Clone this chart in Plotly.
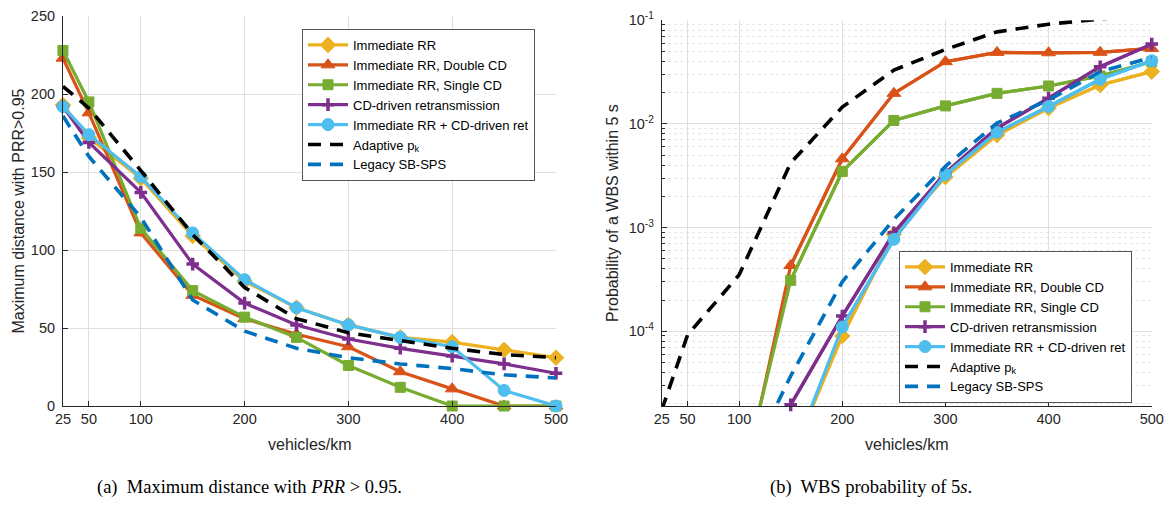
import plotly.graph_objects as go
import math

# ---------------- data ----------------
density = [25, 50, 100, 150, 200, 250, 300, 350, 400, 450, 500]
x_ticks = [25, 50, 100, 200, 300, 400, 500]
y_ticks_left = [0, 50, 100, 150, 200, 250]
y_ticks_right = [1e-4, 1e-3, 1e-2, 1e-1]
y_ticktext_right = ["10<sup>-4</sup>", "10<sup>-3</sup>", "10<sup>-2</sup>", "10<sup>-1</sup>"]

series_names = ["Immediate RR", "Immediate RR, Double CD", "Immediate RR, Single CD",
                "CD-driven retransmission", "Immediate RR + CD-driven ret",
                "Adaptive p<sub>k</sub>", "Legacy SB-SPS"]

# (a) Maximum distance with PRR > 0.95 [m]
dist_rr      = [193, 172, 146, 109, 80, 63, 52, 44, 41, 36, 31]
dist_double  = [223, 188, 111, 71, 56, 46, 38, 22, 11, 0, 0]
dist_single  = [228, 195, 114, 74, 57, 44, 26, 12, 0, 0, 0]
dist_cd      = [192, 169, 137, 91, 66, 52, 43, 37, 32, 27, 21]
dist_rr_cd   = [192, 174, 147, 111, 81, 63, 52, 44, 38, 10, 0]
dist_adapt   = [205, 191, 151, 110, 76, 56, 47, 42, 37, 33, 31]
dist_legacy  = [186, 160, 121, 68, 48, 37, 31, 27, 24, 20, 18]

# (b) Probability of a WBS within 5 s
wbs_rr     = [None, None, None, 5.9e-6, 9.0e-5, 8.6e-4, 3.07e-3, 7.8e-3, 0.0142, 0.0237, 0.0319]
wbs_double = [None, None, 2.25e-6, 4.3e-4, 4.6e-3, 0.0197, 0.0398, 0.0489, 0.0485, 0.049, 0.0534]
wbs_single = [None, None, 2.8e-6, 3.1e-4, 3.47e-3, 0.0108, 0.0149, 0.0197, 0.0232, 0.029, 0.0398]
wbs_cd     = [None, None, None, 1.95e-5, 1.4e-4, 8.9e-4, 3.36e-3, 9.1e-3, 0.0177, 0.0356, 0.0588]
wbs_rr_cd  = [None, None, None, 5.7e-6, 1.1e-4, 7.7e-4, 3.24e-3, 8.3e-3, 0.0147, 0.0269, 0.0406]
wbs_adapt  = [1.74e-5, 9.2e-5, 3.5e-4, 4.2e-3, 0.0145, 0.033, 0.0522, 0.0772, 0.0915, 0.103, 0.115]
wbs_legacy = [None, None, 3.5e-6, 3.7e-5, 3.0e-4, 1.2e-3, 3.9e-3, 0.0102, 0.017, 0.0319, 0.0438]

Y_LOW = 1.9e-5
Y_HIGH = 1e-1

# ---------------- style ----------------
colors = ["#EDB120", "#D95319", "#77AC30", "#7E2F8E", "#4DBEEE", "#000000", "#0072BD"]
symbols = ["diamond", "triangle-up", "square", "cross-thin", "circle", None, None]
msizes = [12, 12, 10, 9, 12, None, None]
AX = "#262626"
GRID = "#dfdfdf"
FONT = "Liberation Sans, Arial, sans-serif"

fig = go.Figure()

left_data = [dist_rr, dist_double, dist_single, dist_cd, dist_rr_cd, dist_adapt, dist_legacy]
right_data = [wbs_rr, wbs_double, wbs_single, wbs_cd, wbs_rr_cd, wbs_adapt, wbs_legacy]


def marker_for(i):
    if symbols[i] is None:
        return None
    if symbols[i] == "cross-thin":
        return dict(symbol="cross-thin", size=msizes[i], color=colors[i],
                    line=dict(width=3.5, color=colors[i]))
    return dict(symbol=symbols[i], size=msizes[i], color=colors[i],
                line=dict(width=1, color=colors[i]))


for i, ys in enumerate(left_data):
    dashed = symbols[i] is None
    fig.add_trace(go.Scatter(
        x=density, y=ys, name=series_names[i],
        mode="lines" if dashed else "lines+markers",
        line=dict(color=colors[i], width=3.6 if dashed else 3.2,
                  dash="13px,9px" if dashed else "solid"),
        marker=marker_for(i), cliponaxis=False,
        xaxis="x", yaxis="y", legend="legend"))

for i, ys in enumerate(right_data):
    dashed = symbols[i] is None
    # full line (clipped to the axes)
    fig.add_trace(go.Scatter(
        x=density, y=ys, name=series_names[i], mode="lines",
        line=dict(color=colors[i], width=3.6 if dashed else 3.2,
                  dash="13px,9px" if dashed else "solid"),
        showlegend=dashed, cliponaxis=True,
        xaxis="x2", yaxis="y2", legend="legend2"))
    if not dashed:
        # markers that lie inside the axes (drawn without clipping)
        pts = [(xv, yv) for xv, yv in zip(density, ys)
               if yv is not None and Y_LOW * 0.99 <= yv <= Y_HIGH]
        fig.add_trace(go.Scatter(
            x=[p[0] for p in pts], y=[p[1] for p in pts], name=series_names[i],
            mode="lines+markers",
            line=dict(color=colors[i], width=3.2),
            marker=marker_for(i), cliponaxis=False,
            xaxis="x2", yaxis="y2", legend="legend2"))

axis_common = dict(
    showline=True, linecolor=AX, linewidth=1, mirror=False,
    ticks="inside", ticklen=5, tickcolor=AX, tickwidth=1,
    showgrid=True, gridcolor=GRID, gridwidth=1, zeroline=False,
    automargin=False,
    tickfont=dict(family=FONT, size=14.5, color=AX),
)

legend_common = dict(xanchor="left", yanchor="top",
                     bgcolor="white", bordercolor="#555555", borderwidth=1,
                     font=dict(family=FONT, size=13, color="#000000"),
                     itemwidth=40, tracegroupgap=0)

fig.update_layout(
    width=1170, height=505, autosize=False,
    margin=dict(l=0, r=0, t=0, b=0, pad=0),
    paper_bgcolor="white", plot_bgcolor="white",
    font=dict(family=FONT, color=AX),
    xaxis=dict(domain=[0.0538, 0.4752], range=[25, 500], tickvals=x_ticks,
               anchor="y", **axis_common),
    yaxis=dict(domain=[0.196, 0.968], range=[0, 250], tickvals=y_ticks_left,
               anchor="x", ticklabelstandoff=4, **axis_common),
    xaxis2=dict(domain=[0.5656, 0.9844], range=[25, 500], tickvals=x_ticks,
                anchor="y2", **axis_common),
    yaxis2=dict(domain=[0.196, 0.960], type="log",
                range=[math.log10(Y_LOW), math.log10(Y_HIGH)],
                tickvals=y_ticks_right, ticktext=y_ticktext_right,
                anchor="x2", ticklabelstandoff=4,
                minor=dict(dtick="D1", ticks="inside", ticklen=3, tickcolor=AX,
                           showgrid=True, gridcolor="#e6e6e6", griddash="dot", gridwidth=1),
                **axis_common),
    legend=dict(x=302 / 1170, y=1 - 29 / 505, **legend_common),
    legend2=dict(x=899 / 1170, y=1 - 251 / 505, **legend_common),
    showlegend=True,
)

ann_common = dict(xref="paper", yref="paper", showarrow=False,
                  xanchor="center", yanchor="middle")
annotations = [
    dict(text="vehicles/km", x=309.5 / 1170, y=1 - 444 / 505,
         font=dict(family=FONT, size=16, color=AX), **ann_common),
    dict(text="vehicles/km", x=906.7 / 1170, y=1 - 444 / 505,
         font=dict(family=FONT, size=16, color=AX), **ann_common),
    dict(text="Maximum distance with PRR>0.95", x=18.5 / 1170, y=1 - 211 / 505,
         textangle=-90, font=dict(family=FONT, size=16, color=AX), **ann_common),
    dict(text="Probability of a WBS within 5 s", x=613 / 1170, y=1 - 213 / 505,
         textangle=-90, font=dict(family=FONT, size=16, color=AX), **ann_common),
    dict(text="(a)  Maximum distance with <i>PRR</i> > 0.95.", x=249 / 1170, y=1 - 487 / 505,
         font=dict(family="Liberation Serif, serif", size=18.5, color="#000000"), **ann_common),
    dict(text="(b)  WBS probability of 5<i>s</i>.", x=871 / 1170, y=1 - 487 / 505,
         font=dict(family="Liberation Serif, serif", size=18.5, color="#000000"), **ann_common),
]
fig.update_layout(annotations=annotations)

fig.write_html("out.html")
